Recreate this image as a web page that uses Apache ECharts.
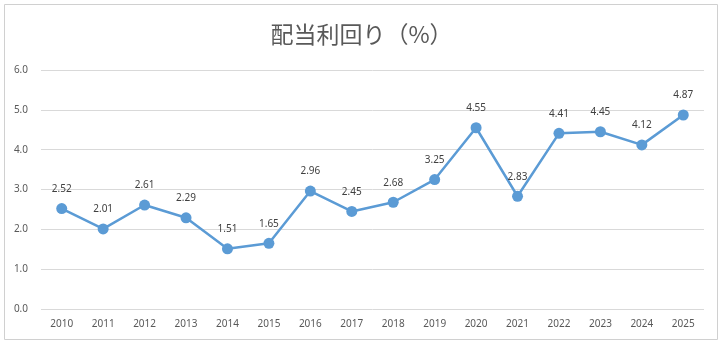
<!DOCTYPE html>
<html><head><meta charset="utf-8">
<script src="https://cdn.jsdelivr.net/npm/echarts@6/dist/echarts.min.js"></script>
<style>html,body{margin:0;padding:0;background:#fff}#c{width:723px;height:345px}</style>
</head><body><div id="c"></div>
<script>
var years = ['2010','2011','2012','2013','2014','2015','2016','2017','2018','2019','2020','2021','2022','2023','2024','2025'];
var yields = [2.52,2.01,2.61,2.29,1.51,1.65,2.96,2.45,2.68,3.25,4.55,2.83,4.41,4.45,4.12,4.87];
var chart = echarts.init(document.getElementById('c'));
chart.setOption({
  animation: false,
  graphic: [{type:'rect', shape:{x:4.5,y:4.5,width:713,height:335}, style:{fill:'none', stroke:'#d0d0d0', lineWidth:1}}],
  title: {text:'配当利回り（%）', left:'center', top:18, textStyle:{fontFamily:'Noto Sans CJK JP', fontSize:23, fontWeight:'normal', color:'#595959'}},
  grid: {left:41, right:19, top:70, bottom:36},
  xAxis: {type:'category', data:years, boundaryGap:true,
    axisLine:{show:false}, axisTick:{show:false},
    axisLabel:{color:'#595959', fontSize:10, fontFamily:'Noto Sans', margin:10}},
  yAxis: {type:'value', min:0, max:6, interval:1,
    axisLabel:{color:'#595959', fontSize:10, fontFamily:'Noto Sans', margin:13, formatter:function(v){return v.toFixed(1);}},
    splitLine:{lineStyle:{color:'#d9d9d9'}}, axisLine:{show:false}, axisTick:{show:false}},
  series: [{type:'line', data:yields, symbol:'circle', symbolSize:11,
    lineStyle:{color:'#5B9BD5', width:2.5}, itemStyle:{color:'#5B9BD5'},
    label:{show:true, position:'top', distance:9, color:'#404040', fontSize:10, fontFamily:'Noto Sans', formatter:function(p){return p.value.toFixed(2);}}}]
});
</script></body></html>
